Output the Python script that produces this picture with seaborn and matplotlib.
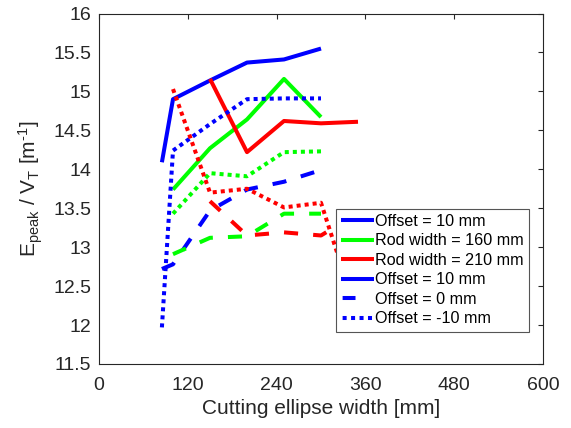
import matplotlib
matplotlib.use("Agg")
import matplotlib.pyplot as plt
from matplotlib.lines import Line2D
import seaborn as sns
import pandas as pd

# ---- data ----
x_off10 = [85, 100, 150, 200, 250, 300]
y_off10 = [14.09, 14.90, 15.14, 15.37, 15.41, 15.55]

x_rod160 = [100, 150, 200, 250, 300]
y_rod160 = [13.74, 14.27, 14.64, 15.16, 14.67]

x_rod210 = [150, 200, 250, 300, 350]
y_rod210 = [15.16, 14.22, 14.62, 14.59, 14.61]

x_off0 = [85, 100, 150, 200, 250, 300]
y_off0 = [12.72, 12.78, 13.47, 13.74, 13.84, 13.99]

x_rod160_off0 = [100, 150, 200, 250, 300]
y_rod160_off0 = [12.91, 13.12, 13.14, 13.43, 13.43]

x_rod210_off0 = [150, 200, 250, 300, 350]
y_rod210_off0 = [13.59, 13.15, 13.19, 13.15, 13.44]

x_offm10 = [85, 100, 150, 200, 250, 300]
y_offm10 = [11.97, 14.24, 14.58, 14.90, 14.91, 14.91]

x_rod160_offm10 = [100, 150, 200, 250, 300]
y_rod160_offm10 = [13.43, 13.95, 13.91, 14.22, 14.23]

x_rod210_offm10 = [100, 150, 200, 250, 300, 350]
y_rod210_offm10 = [15.03, 13.70, 13.75, 13.51, 13.57, 12.10]

legend_labels = ["Offset = 10 mm", "Rod width = 160 mm", "Rod width = 210 mm",
                 "Offset = 10 mm", "Offset = 0 mm", "Offset = -10 mm"]
x_ticks = [0, 120, 240, 360, 480, 600]
y_ticks = [11.5, 12, 12.5, 13, 13.5, 14, 14.5, 15, 15.5, 16]

# ---- style ----
sns.set_theme(style="white")
plt.rcParams['font.family'] = ['Liberation Sans', 'DejaVu Sans']
plt.rcParams['mathtext.default'] = 'regular'
plt.rcParams['mathtext.fontset'] = 'custom'
plt.rcParams['mathtext.rm'] = 'Liberation Sans'
plt.rcParams['mathtext.it'] = 'Liberation Sans'
TXT = '#262626'

fig = plt.figure(figsize=(5.71, 4.28), dpi=100)
ax = fig.add_axes([99/571, 1-364/428, 444/571, 350.5/428])

LW = 2.9
SOLID = '-'
DASH = (0, (3.5, 3.75))
DOT = (0, (1, 1))
BLUE, GREEN, RED = (0, 0, 1), (0, 1, 0), (1, 0, 0)

series = [
    (x_off10, y_off10, BLUE, SOLID),
    (x_rod160, y_rod160, GREEN, SOLID),
    (x_rod210, y_rod210, RED, SOLID),
    (x_off0, y_off0, BLUE, DASH),
    (x_rod160_off0, y_rod160_off0, GREEN, DASH),
    (x_rod210_off0, y_rod210_off0, RED, DASH),
    (x_offm10, y_offm10, BLUE, DOT),
    (x_rod160_offm10, y_rod160_offm10, GREEN, DOT),
    (x_rod210_offm10, y_rod210_offm10, RED, DOT),
]
for xs, ys, c, ls in series:
    df = pd.DataFrame({"x": xs, "y": ys})
    sns.lineplot(data=df, x="x", y="y", color=c, linestyle=ls, lw=LW,
                 ax=ax, legend=False, sort=False,
                 solid_capstyle='butt', dash_capstyle='butt')

ax.set_xlim(0, 600)
ax.set_ylim(11.5, 16)
ax.set_xticks(x_ticks)
ax.set_xticklabels([str(t) for t in x_ticks])
ax.set_yticks(y_ticks)
ax.set_yticklabels([f"{t:g}" for t in y_ticks])

for s in ax.spines.values():
    s.set_color(TXT)
    s.set_linewidth(0.8)
ax.tick_params(axis='both', which='major', direction='in', length=3.6, width=0.8,
               color=TXT, labelcolor=TXT, labelsize=14, top=True, right=True)
ax.tick_params(axis='x', pad=9)
ax.tick_params(axis='y', pad=5.5)

ax.set_xlabel("Cutting ellipse width [mm]", fontsize=15, color=TXT, labelpad=4)
ax.set_ylabel(r"E$_{peak}$ / V$_{T}$ [m$^{\text{-}1}$]", fontsize=15, color=TXT, labelpad=6)

handles = [
    Line2D([], [], color=BLUE, lw=LW, solid_capstyle='butt'),
    Line2D([], [], color=GREEN, lw=LW, solid_capstyle='butt'),
    Line2D([], [], color=RED, lw=LW, solid_capstyle='butt'),
    Line2D([], [], color=BLUE, lw=LW, solid_capstyle='butt'),
    Line2D([], [], color=BLUE, lw=LW, linestyle=(-0.4, (3.2, 10)), dash_capstyle='butt'),
    Line2D([], [], color=BLUE, lw=LW, linestyle=(-0.4, (1, 1.1)), dash_capstyle='butt'),
]
leg = ax.legend(handles, legend_labels, loc='upper left',
                bbox_to_anchor=(237/444, 155/350), borderaxespad=0,
                fontsize=11.6, frameon=True, fancybox=False, framealpha=1,
                edgecolor='#555555', handlelength=2.05, handletextpad=0.08,
                labelspacing=0.28, borderpad=0.32)
leg.get_frame().set_linewidth(0.8)
for t in leg.get_texts():
    t.set_color('black')
leg.set_zorder(10)

fig.savefig("out.png", dpi=100, facecolor='white')
